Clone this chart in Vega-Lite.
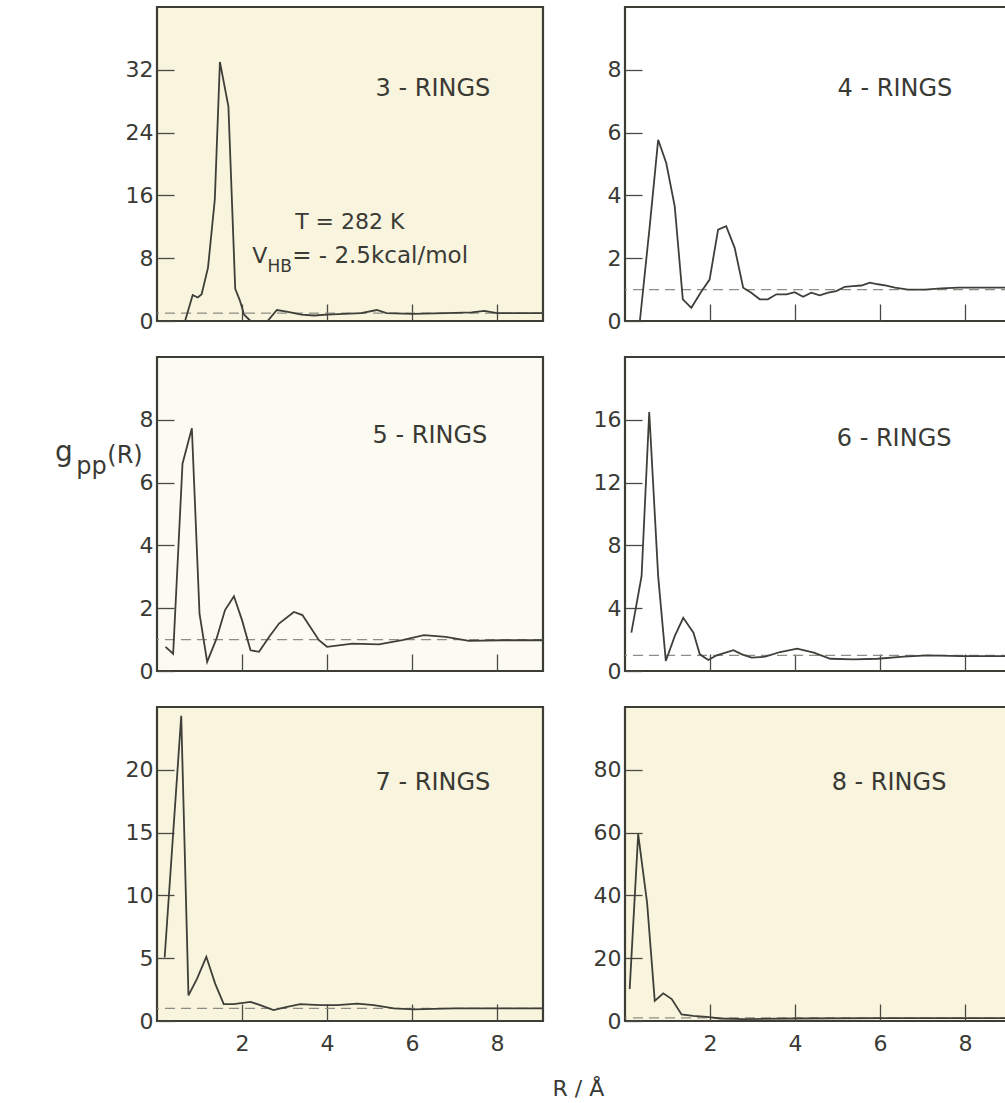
{
  "$schema": "https://vega.github.io/schema/vega-lite/v6.json",
  "autosize": {"type": "none"},
  "padding": {"left": 157, "top": 7, "right": 848, "bottom": 1096},
  "background": "white",
  "bounds": "flush",
  "columns": 2,
  "spacing": {"column": 82, "row": 36},
  "config": {
    "view": {"stroke": "#3d3d38", "strokeWidth": 2.2},
    "font": "DejaVu Sans",
    "axis": {"grid": false, "domain": false, "tickColor": "#4a4a44", "tickWidth": 1.3, "tickSize": -17, "labelFont": "DejaVu Sans", "labelFontSize": 22, "labelColor": "#3a3a35"},
    "axisX": {"labelPadding": 29},
    "axisY": {"labelPadding": 21},
    "text": {"font": "DejaVu Sans", "color": "#3a3a35"}
  },
  "data": {"values": [
    {"panel": "3", "R": 0.66, "g": 0}, {"panel": "3", "R": 0.84, "g": 3.3}, {"panel": "3", "R": 0.96, "g": 3.0}, {"panel": "3", "R": 1.05, "g": 3.4}, {"panel": "3", "R": 1.2, "g": 6.8}, {"panel": "3", "R": 1.36, "g": 15.5}, {"panel": "3", "R": 1.48, "g": 33}, {"panel": "3", "R": 1.68, "g": 27.3}, {"panel": "3", "R": 1.84, "g": 4.1}, {"panel": "3", "R": 1.95, "g": 2.6}, {"panel": "3", "R": 2.05, "g": 0.8}, {"panel": "3", "R": 2.2, "g": 0}, {"panel": "3", "R": 2.6, "g": 0}, {"panel": "3", "R": 2.82, "g": 1.4}, {"panel": "3", "R": 3.05, "g": 1.2}, {"panel": "3", "R": 3.4, "g": 0.8}, {"panel": "3", "R": 3.7, "g": 0.7}, {"panel": "3", "R": 4.0, "g": 0.8}, {"panel": "3", "R": 4.4, "g": 0.9}, {"panel": "3", "R": 4.8, "g": 1.0}, {"panel": "3", "R": 5.17, "g": 1.4}, {"panel": "3", "R": 5.4, "g": 1.0}, {"panel": "3", "R": 6.0, "g": 0.9}, {"panel": "3", "R": 6.8, "g": 1.0}, {"panel": "3", "R": 7.4, "g": 1.1}, {"panel": "3", "R": 7.7, "g": 1.3}, {"panel": "3", "R": 8.0, "g": 1.0}, {"panel": "3", "R": 9.08, "g": 1.0},
    {"panel": "4", "R": 0.35, "g": 0}, {"panel": "4", "R": 0.58, "g": 3.0}, {"panel": "4", "R": 0.78, "g": 5.77}, {"panel": "4", "R": 0.97, "g": 5.03}, {"panel": "4", "R": 1.17, "g": 3.65}, {"panel": "4", "R": 1.36, "g": 0.69}, {"panel": "4", "R": 1.56, "g": 0.42}, {"panel": "4", "R": 1.8, "g": 0.95}, {"panel": "4", "R": 1.99, "g": 1.32}, {"panel": "4", "R": 2.19, "g": 2.91}, {"panel": "4", "R": 2.38, "g": 3.02}, {"panel": "4", "R": 2.58, "g": 2.33}, {"panel": "4", "R": 2.78, "g": 1.06}, {"panel": "4", "R": 2.97, "g": 0.9}, {"panel": "4", "R": 3.17, "g": 0.69}, {"panel": "4", "R": 3.36, "g": 0.69}, {"panel": "4", "R": 3.56, "g": 0.85}, {"panel": "4", "R": 3.8, "g": 0.85}, {"panel": "4", "R": 3.99, "g": 0.92}, {"panel": "4", "R": 4.19, "g": 0.77}, {"panel": "4", "R": 4.38, "g": 0.9}, {"panel": "4", "R": 4.58, "g": 0.82}, {"panel": "4", "R": 4.78, "g": 0.9}, {"panel": "4", "R": 4.97, "g": 0.95}, {"panel": "4", "R": 5.17, "g": 1.09}, {"panel": "4", "R": 5.36, "g": 1.11}, {"panel": "4", "R": 5.56, "g": 1.13}, {"panel": "4", "R": 5.76, "g": 1.22}, {"panel": "4", "R": 5.95, "g": 1.17}, {"panel": "4", "R": 6.15, "g": 1.13}, {"panel": "4", "R": 6.35, "g": 1.06}, {"panel": "4", "R": 6.66, "g": 1.0}, {"panel": "4", "R": 7.05, "g": 1.0}, {"panel": "4", "R": 7.44, "g": 1.04}, {"panel": "4", "R": 7.84, "g": 1.06}, {"panel": "4", "R": 9.08, "g": 1.06},
    {"panel": "5", "R": 0.2, "g": 0.77}, {"panel": "5", "R": 0.38, "g": 0.55}, {"panel": "5", "R": 0.6, "g": 6.6}, {"panel": "5", "R": 0.82, "g": 7.73}, {"panel": "5", "R": 1.0, "g": 1.83}, {"panel": "5", "R": 1.18, "g": 0.29}, {"panel": "5", "R": 1.4, "g": 1.03}, {"panel": "5", "R": 1.6, "g": 1.94}, {"panel": "5", "R": 1.81, "g": 2.38}, {"panel": "5", "R": 2.0, "g": 1.62}, {"panel": "5", "R": 2.2, "g": 0.66}, {"panel": "5", "R": 2.4, "g": 0.61}, {"panel": "5", "R": 2.64, "g": 1.09}, {"panel": "5", "R": 2.87, "g": 1.51}, {"panel": "5", "R": 3.22, "g": 1.88}, {"panel": "5", "R": 3.42, "g": 1.78}, {"panel": "5", "R": 3.81, "g": 0.98}, {"panel": "5", "R": 4.0, "g": 0.77}, {"panel": "5", "R": 4.6, "g": 0.87}, {"panel": "5", "R": 5.22, "g": 0.85}, {"panel": "5", "R": 5.77, "g": 0.98}, {"panel": "5", "R": 6.28, "g": 1.14}, {"panel": "5", "R": 6.79, "g": 1.09}, {"panel": "5", "R": 7.34, "g": 0.96}, {"panel": "5", "R": 8.12, "g": 0.98}, {"panel": "5", "R": 9.08, "g": 0.98},
    {"panel": "6", "R": 0.15, "g": 2.44}, {"panel": "6", "R": 0.39, "g": 6.04}, {"panel": "6", "R": 0.57, "g": 16.5}, {"panel": "6", "R": 0.78, "g": 6.04}, {"panel": "6", "R": 0.96, "g": 0.64}, {"panel": "6", "R": 1.17, "g": 2.22}, {"panel": "6", "R": 1.37, "g": 3.39}, {"panel": "6", "R": 1.61, "g": 2.44}, {"panel": "6", "R": 1.76, "g": 1.06}, {"panel": "6", "R": 1.96, "g": 0.7}, {"panel": "6", "R": 2.16, "g": 1.0}, {"panel": "6", "R": 2.55, "g": 1.33}, {"panel": "6", "R": 2.75, "g": 1.06}, {"panel": "6", "R": 2.98, "g": 0.85}, {"panel": "6", "R": 3.3, "g": 0.91}, {"panel": "6", "R": 3.65, "g": 1.21}, {"panel": "6", "R": 4.05, "g": 1.42}, {"panel": "6", "R": 4.44, "g": 1.17}, {"panel": "6", "R": 4.83, "g": 0.78}, {"panel": "6", "R": 5.38, "g": 0.74}, {"panel": "6", "R": 5.94, "g": 0.78}, {"panel": "6", "R": 6.56, "g": 0.91}, {"panel": "6", "R": 7.12, "g": 1.0}, {"panel": "6", "R": 7.9, "g": 0.95}, {"panel": "6", "R": 9.08, "g": 0.95},
    {"panel": "7", "R": 0.18, "g": 5.06}, {"panel": "7", "R": 0.57, "g": 24.3}, {"panel": "7", "R": 0.74, "g": 2.04}, {"panel": "7", "R": 0.94, "g": 3.36}, {"panel": "7", "R": 1.16, "g": 5.11}, {"panel": "7", "R": 1.37, "g": 2.96}, {"panel": "7", "R": 1.57, "g": 1.34}, {"panel": "7", "R": 1.8, "g": 1.34}, {"panel": "7", "R": 2.2, "g": 1.52}, {"panel": "7", "R": 2.43, "g": 1.26}, {"panel": "7", "R": 2.74, "g": 0.87}, {"panel": "7", "R": 3.06, "g": 1.13}, {"panel": "7", "R": 3.37, "g": 1.34}, {"panel": "7", "R": 3.84, "g": 1.26}, {"panel": "7", "R": 4.24, "g": 1.26}, {"panel": "7", "R": 4.71, "g": 1.39}, {"panel": "7", "R": 5.1, "g": 1.26}, {"panel": "7", "R": 5.57, "g": 1.0}, {"panel": "7", "R": 6.04, "g": 0.92}, {"panel": "7", "R": 6.98, "g": 1.0}, {"panel": "7", "R": 9.08, "g": 1.0},
    {"panel": "8", "R": 0.11, "g": 10.2}, {"panel": "8", "R": 0.31, "g": 59.5}, {"panel": "8", "R": 0.52, "g": 37.6}, {"panel": "8", "R": 0.7, "g": 6.4}, {"panel": "8", "R": 0.9, "g": 8.8}, {"panel": "8", "R": 1.1, "g": 7.0}, {"panel": "8", "R": 1.33, "g": 2.1}, {"panel": "8", "R": 1.6, "g": 1.6}, {"panel": "8", "R": 1.92, "g": 1.3}, {"panel": "8", "R": 2.24, "g": 0.8}, {"panel": "8", "R": 2.79, "g": 0.6}, {"panel": "8", "R": 4.0, "g": 0.8}, {"panel": "8", "R": 6.0, "g": 0.9}, {"panel": "8", "R": 9.08, "g": 0.9}
  ]},
  "concat": [
    {
      "width": 386, "height": 314,
      "view": {"fill": "#f8f4dd"},
      "layer": [
        {"data": {"values": [{}]}, "mark": {"type": "rule", "strokeDash": [10, 6], "color": "#8d8d85", "strokeWidth": 1.2}, "encoding": {"y": {"datum": 1, "type": "quantitative"}}},
        {"transform": [{"filter": "datum.panel == '3'"}], "mark": {"type": "line", "color": "#3f3f3a", "strokeWidth": 1.8},
         "encoding": {
           "x": {"field": "R", "type": "quantitative", "scale": {"domain": [0, 9.08], "nice": false, "zero": false}, "axis": {"values": [2, 4, 6, 8], "labels": false, "title": null}},
           "y": {"field": "g", "type": "quantitative", "scale": {"domain": [0, 40], "nice": false}, "axis": {"values": [0, 8, 16, 24, 32], "title": null}}
         }},
        {"data": {"values": [{}]}, "mark": {"type": "text", "fontSize": 24, "align": "center", "baseline": "alphabetic"}, "encoding": {"x": {"datum": 6.49, "type": "quantitative"}, "y": {"datum": 28.7, "type": "quantitative"}, "text": {"value": "3 - RINGS"}}},
        {"data": {"values": [{}]}, "mark": {"type": "text", "fontSize": 22, "align": "left", "baseline": "alphabetic"}, "encoding": {"x": {"datum": 3.25, "type": "quantitative"}, "y": {"datum": 11.7, "type": "quantitative"}, "text": {"value": "T = 282 K"}}},
        {"data": {"values": [{}]}, "mark": {"type": "text", "fontSize": 22, "align": "left", "baseline": "alphabetic"}, "encoding": {"x": {"datum": 2.24, "type": "quantitative"}, "y": {"datum": 7.4, "type": "quantitative"}, "text": {"value": "V"}}},
        {"data": {"values": [{}]}, "mark": {"type": "text", "fontSize": 17, "align": "left", "baseline": "alphabetic"}, "encoding": {"x": {"datum": 2.6, "type": "quantitative"}, "y": {"datum": 6.24, "type": "quantitative"}, "text": {"value": "HB"}}},
        {"data": {"values": [{}]}, "mark": {"type": "text", "fontSize": 23, "align": "left", "baseline": "alphabetic"}, "encoding": {"x": {"datum": 3.18, "type": "quantitative"}, "y": {"datum": 7.4, "type": "quantitative"}, "text": {"value": "= - 2.5kcal/mol"}}}
      ]
    },
    {
      "width": 386, "height": 314,
      "view": {"fill": "white"},
      "layer": [
        {"data": {"values": [{}]}, "mark": {"type": "rule", "strokeDash": [10, 6], "color": "#8d8d85", "strokeWidth": 1.2}, "encoding": {"y": {"datum": 1, "type": "quantitative"}}},
        {"transform": [{"filter": "datum.panel == '4'"}], "mark": {"type": "line", "color": "#3f3f3a", "strokeWidth": 1.8},
         "encoding": {
           "x": {"field": "R", "type": "quantitative", "scale": {"domain": [0, 9.08], "nice": false, "zero": false}, "axis": {"values": [2, 4, 6, 8], "labels": false, "title": null}},
           "y": {"field": "g", "type": "quantitative", "scale": {"domain": [0, 10], "nice": false}, "axis": {"values": [0, 2, 4, 6, 8], "title": null}}
         }},
        {"data": {"values": [{}]}, "mark": {"type": "text", "fontSize": 24, "align": "center", "baseline": "alphabetic"}, "encoding": {"x": {"datum": 6.35, "type": "quantitative"}, "y": {"datum": 7.17, "type": "quantitative"}, "text": {"value": "4 - RINGS"}}}
      ]
    },
    {
      "width": 386, "height": 314,
      "view": {"fill": "#fcfbf2"},
      "layer": [
        {"data": {"values": [{}]}, "mark": {"type": "rule", "strokeDash": [10, 6], "color": "#8d8d85", "strokeWidth": 1.2}, "encoding": {"y": {"datum": 1, "type": "quantitative"}}},
        {"transform": [{"filter": "datum.panel == '5'"}], "mark": {"type": "line", "color": "#3f3f3a", "strokeWidth": 1.8},
         "encoding": {
           "x": {"field": "R", "type": "quantitative", "scale": {"domain": [0, 9.08], "nice": false, "zero": false}, "axis": {"values": [2, 4, 6, 8], "labels": false, "title": null}},
           "y": {"field": "g", "type": "quantitative", "scale": {"domain": [0, 10], "nice": false}, "axis": {"values": [0, 2, 4, 6, 8], "title": null}}
         }},
        {"data": {"values": [{}]}, "mark": {"type": "text", "fontSize": 24, "align": "center", "baseline": "alphabetic"}, "encoding": {"x": {"datum": 6.42, "type": "quantitative"}, "y": {"datum": 7.26, "type": "quantitative"}, "text": {"value": "5 - RINGS"}}},
        {"data": {"values": [{}]}, "mark": {"type": "text", "fontSize": 28, "align": "left", "baseline": "alphabetic"}, "encoding": {"x": {"datum": -2.4, "type": "quantitative"}, "y": {"datum": 6.7, "type": "quantitative"}, "text": {"value": "g"}}},
        {"data": {"values": [{}]}, "mark": {"type": "text", "fontSize": 24, "align": "left", "baseline": "alphabetic"}, "encoding": {"x": {"datum": -1.9, "type": "quantitative"}, "y": {"datum": 6.27, "type": "quantitative"}, "text": {"value": "pp"}}},
        {"data": {"values": [{}]}, "mark": {"type": "text", "fontSize": 24, "align": "left", "baseline": "alphabetic"}, "encoding": {"x": {"datum": -1.17, "type": "quantitative"}, "y": {"datum": 6.62, "type": "quantitative"}, "text": {"value": "(R)"}}}
      ]
    },
    {
      "width": 386, "height": 314,
      "view": {"fill": "white"},
      "layer": [
        {"data": {"values": [{}]}, "mark": {"type": "rule", "strokeDash": [10, 6], "color": "#8d8d85", "strokeWidth": 1.2}, "encoding": {"y": {"datum": 1, "type": "quantitative"}}},
        {"transform": [{"filter": "datum.panel == '6'"}], "mark": {"type": "line", "color": "#3f3f3a", "strokeWidth": 1.8},
         "encoding": {
           "x": {"field": "R", "type": "quantitative", "scale": {"domain": [0, 9.08], "nice": false, "zero": false}, "axis": {"values": [2, 4, 6, 8], "labels": false, "title": null}},
           "y": {"field": "g", "type": "quantitative", "scale": {"domain": [0, 20], "nice": false}, "axis": {"values": [0, 4, 8, 12, 16], "title": null}}
         }},
        {"data": {"values": [{}]}, "mark": {"type": "text", "fontSize": 24, "align": "center", "baseline": "alphabetic"}, "encoding": {"x": {"datum": 6.33, "type": "quantitative"}, "y": {"datum": 14.33, "type": "quantitative"}, "text": {"value": "6 - RINGS"}}}
      ]
    },
    {
      "width": 386, "height": 314,
      "view": {"fill": "#f8f4dd"},
      "layer": [
        {"data": {"values": [{}]}, "mark": {"type": "rule", "strokeDash": [10, 6], "color": "#8d8d85", "strokeWidth": 1.2}, "encoding": {"y": {"datum": 1, "type": "quantitative"}}},
        {"transform": [{"filter": "datum.panel == '7'"}], "mark": {"type": "line", "color": "#3f3f3a", "strokeWidth": 1.8},
         "encoding": {
           "x": {"field": "R", "type": "quantitative", "scale": {"domain": [0, 9.08], "nice": false, "zero": false}, "axis": {"values": [2, 4, 6, 8], "format": "d", "title": "R / Å", "titleX": 395, "titleY": 74, "titleAlign": "left", "titleBaseline": "alphabetic", "titleFontSize": 22, "titleFontWeight": "normal", "titleColor": "#3a3a35", "titleFont": "DejaVu Sans"}},
           "y": {"field": "g", "type": "quantitative", "scale": {"domain": [0, 25], "nice": false}, "axis": {"values": [0, 5, 10, 15, 20], "title": null}}
         }},
        {"data": {"values": [{}]}, "mark": {"type": "text", "fontSize": 24, "align": "center", "baseline": "alphabetic"}, "encoding": {"x": {"datum": 6.49, "type": "quantitative"}, "y": {"datum": 18.4, "type": "quantitative"}, "text": {"value": "7 - RINGS"}}}
      ]
    },
    {
      "width": 386, "height": 314,
      "view": {"fill": "#f8f4dd"},
      "layer": [
        {"data": {"values": [{}]}, "mark": {"type": "rule", "strokeDash": [10, 6], "color": "#8d8d85", "strokeWidth": 1.2}, "encoding": {"y": {"datum": 1, "type": "quantitative"}}},
        {"transform": [{"filter": "datum.panel == '8'"}], "mark": {"type": "line", "color": "#3f3f3a", "strokeWidth": 1.8},
         "encoding": {
           "x": {"field": "R", "type": "quantitative", "scale": {"domain": [0, 9.08], "nice": false, "zero": false}, "axis": {"values": [2, 4, 6, 8], "format": "d", "title": null}},
           "y": {"field": "g", "type": "quantitative", "scale": {"domain": [0, 100], "nice": false}, "axis": {"values": [0, 20, 40, 60, 80], "title": null}}
         }},
        {"data": {"values": [{}]}, "mark": {"type": "text", "fontSize": 24, "align": "center", "baseline": "alphabetic"}, "encoding": {"x": {"datum": 6.21, "type": "quantitative"}, "y": {"datum": 73.6, "type": "quantitative"}, "text": {"value": "8 - RINGS"}}}
      ]
    }
  ]
}
